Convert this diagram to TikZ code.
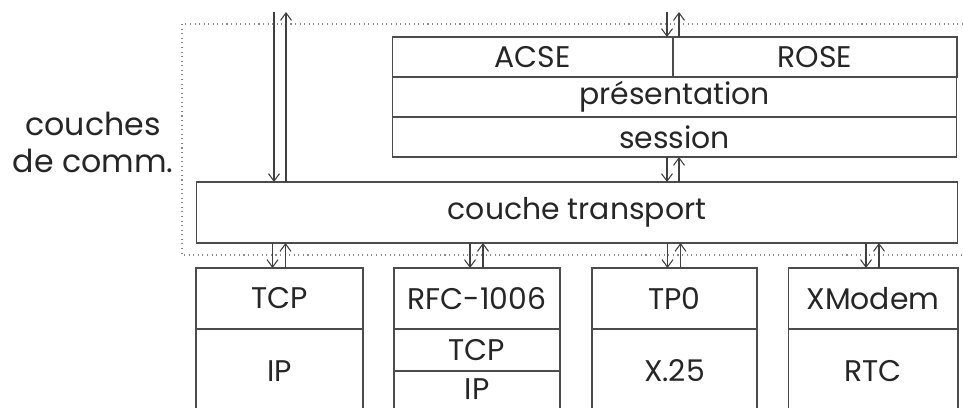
\documentclass[tikz,border=0pt]{standalone}
\usepackage{fontspec}
\setmainfont{Poppins}
\usetikzlibrary{arrows.meta, positioning}

\begin{document}
\begin{tikzpicture}[
    x=0.02cm, y=-0.02cm,
    % Styles des boîtes de couches
    layer_box/.style={rectangle, draw=black!70, line width=0.6pt, inner sep=0pt, outer sep=0pt,
        text=black!85, font=\fontsize{17}{20}\selectfont, minimum height=0.8cm},
    side_label/.style={align=center, text=black!85, font=\fontsize{18}{21}\selectfont},
    dir_arrow/.style={-{Straight Barb[length=1.5mm,width=2.2mm]}, draw=black!75, line width=0.6pt},
    frame_line/.style={draw=black!45, dotted, line width=0.6pt}
]
    \useasboundingbox (0,0) rectangle (963,408);
    \clip (0,0) rectangle (963,408);

    % --- 1. CADRE ET ÉTIQUETTE ---
    \draw[frame_line] (963,24) -- (182,24) -- (182,255) -- (963,255);
    \node[side_label] (commlabel) at (93,142) {couches\\de comm.};

    % --- 2. COUCHES HAUTES ---
    \node[layer_box, minimum width=5.62cm] (acse) at (532.5,57) {ACSE};
    \node[layer_box, minimum width=5.68cm] (rose) at (815,57) {ROSE};
    \node[layer_box, minimum width=11.3cm] (pres) at (674.5,97) {présentation};
    \node[layer_box, minimum width=11.3cm] (sess) at (674.5,137) {session};

    % --- 3. COUCHE TRANSPORT ---
    \node[layer_box, minimum width=15.24cm, minimum height=1.22cm] (trans) at (577,212.5) {couche transport};

    % --- 4. PILES DU BAS ---
    \node[layer_box, minimum width=3.34cm, minimum height=1.22cm] (tcpa) at (279.5,298.5) {TCP};
    \node[layer_box, minimum width=3.34cm, minimum height=1.68cm] (ipa) at (279.5,371) {IP};

    \node[layer_box, minimum width=3.32cm, minimum height=1.22cm] (rfc) at (477,298.5) {RFC-1006};
    \node[layer_box, minimum width=3.32cm, minimum height=0.84cm] (tcpb) at (477,350) {TCP};
    \node[layer_box, minimum width=3.32cm, minimum height=0.84cm, text depth=0.12cm] (ipb) at (477,392) {IP};

    \node[layer_box, minimum width=3.3cm, minimum height=1.22cm] (tpzero) at (674.5,298.5) {TP0};
    \node[layer_box, minimum width=3.3cm, minimum height=1.68cm] (xvingt) at (674.5,371) {X.25};

    \node[layer_box, minimum width=3.4cm, minimum height=1.22cm] (xmodem) at (873,298.5) {XModem};
    \node[layer_box, minimum width=3.4cm, minimum height=1.68cm] (rtc) at (873,371) {RTC};

    % --- 5. FLÈCHES ---
    % accès direct au transport
    \coordinate (ext_dn) at (274,12);
    \coordinate (ext_up) at (286,12);
    \draw[dir_arrow] (ext_dn) -- (ext_dn |- trans.north);
    \draw[dir_arrow] (ext_up |- trans.north) -- (ext_up);

    % application <-> ACSE/ROSE, session <-> transport
    \coordinate (mid_dn) at (667,12);
    \coordinate (mid_up) at (679,12);
    \draw[dir_arrow] (mid_dn) -- (mid_dn |- acse.north);
    \draw[dir_arrow] (mid_up |- rose.north) -- (mid_up);
    \draw[dir_arrow] (mid_dn |- sess.south) -- (mid_dn |- trans.north);
    \draw[dir_arrow] (mid_up |- trans.north) -- (mid_up |- sess.south);

    % transport <-> piles du bas
    \foreach \b in {tcpa, rfc, tpzero, xmodem} {
        \coordinate (dn\b) at ([xshift=-0.14cm]\b.north);
        \coordinate (up\b) at ([xshift=0.12cm]\b.north);
        \draw[dir_arrow] (dn\b |- trans.south) -- (dn\b);
        \draw[dir_arrow] (up\b) -- (up\b |- trans.south);
    }

\end{tikzpicture}
\end{document}
